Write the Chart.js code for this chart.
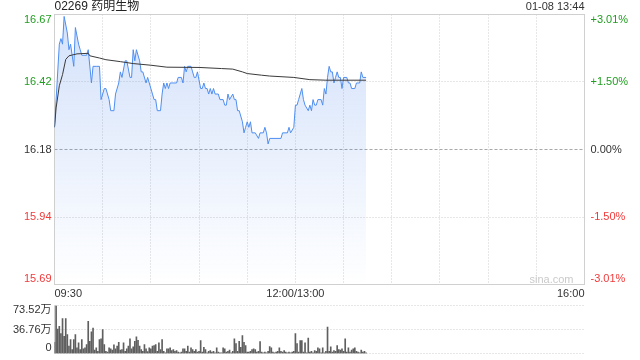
<!DOCTYPE html>
<html>
<head>
<meta charset="utf-8">
<script src="https://cdn.jsdelivr.net/npm/chart.js@4.4.1/dist/chart.umd.min.js"></script>
<style>
  html, body { margin: 0; padding: 0; background: #fff; }
  #wrap { position: relative; width: 640px; height: 360px; overflow: hidden; }
  #priceChart { position: absolute; left: 0; top: 0; }
  #volChart { position: absolute; left: 0; top: 300px; }
</style>
</head>
<body>
<div id="wrap">
  <canvas id="priceChart" width="640" height="300"></canvas>
  <canvas id="volChart" width="640" height="60"></canvas>
</div>
<script>
// header texts
const stockTitle = '02269 药明生物';
const timeStamp = '01-08 13:44';

// axes
const prevClose = 16.18;
const pctLimit = 3.01;
const totalMinutes = 330; // 09:30-12:00 + 13:00-16:00
const priceLabels = ['16.67', '16.42', '16.18', '15.94', '15.69'];
const pctLabels = ['+3.01%', '+1.50%', '0.00%', '-1.50%', '-3.01%'];
const timeLabels = ['09:30', '12:00/13:00', '16:00'];
const timeLabelMinutes = [0, 150, 330];
const volLabels = ['73.52万', '36.76万', '0'];
const volMax = 73.52;

// price line (minutes since 09:30, lunch break collapsed)
const priceMinutes = [0, 3, 4, 5, 6, 8, 9, 10, 11, 12, 13, 15, 16, 17, 20, 21, 23, 24, 26, 28,
  29, 31, 32, 34, 35, 37, 38, 40, 41, 42, 44, 45, 47, 48, 49, 50, 51, 53, 54, 55,
  57, 58, 59, 61, 62, 63, 64, 66, 67, 68, 69, 70, 71, 72, 76, 77, 79, 80, 81, 82,
  83, 85, 86, 87, 88, 89, 91, 92, 93, 94, 95, 96, 97, 98, 99, 100, 102, 103, 105, 106,
  107, 108, 109, 111, 112, 113, 114, 115, 117, 118, 119, 120, 121, 122, 123, 125, 127, 128, 130, 131,
  132, 133, 134, 141, 142, 145, 146, 147, 149, 150, 151, 152, 154, 155, 156, 158, 159, 160, 161, 162,
  163, 164, 166, 167, 168, 169, 170, 171, 172, 173, 174, 175, 176, 177, 178, 179, 180, 182, 183, 184,
  185, 187, 188, 190, 191, 192, 194];
const prices = [16.26, 16.56, 16.58, 16.56, 16.66, 16.60, 16.54, 16.56, 16.52, 16.48, 16.62, 16.56, 16.54, 16.52, 16.52, 16.54, 16.42, 16.48, 16.48, 16.48,
  16.36, 16.40, 16.40, 16.36, 16.32, 16.32, 16.38, 16.42, 16.46, 16.44, 16.50, 16.50, 16.44, 16.44, 16.54, 16.50, 16.54, 16.50, 16.46, 16.46,
  16.42, 16.44, 16.42, 16.38, 16.36, 16.36, 16.32, 16.32, 16.38, 16.42, 16.40, 16.42, 16.40, 16.42, 16.42, 16.44, 16.44, 16.42, 16.48, 16.46,
  16.48, 16.48, 16.46, 16.44, 16.44, 16.46, 16.40, 16.40, 16.42, 16.40, 16.40, 16.38, 16.40, 16.38, 16.40, 16.38, 16.38, 16.36, 16.36, 16.34,
  16.34, 16.38, 16.36, 16.38, 16.36, 16.36, 16.32, 16.32, 16.28, 16.24, 16.26, 16.28, 16.26, 16.28, 16.24, 16.24, 16.22, 16.24, 16.24, 16.26,
  16.24, 16.20, 16.22, 16.22, 16.24, 16.24, 16.26, 16.24, 16.26, 16.34, 16.34, 16.36, 16.40, 16.36, 16.34, 16.32, 16.34, 16.32, 16.36, 16.34,
  16.34, 16.36, 16.36, 16.34, 16.40, 16.38, 16.44, 16.48, 16.46, 16.46, 16.42, 16.44, 16.46, 16.44, 16.44, 16.40, 16.44, 16.44, 16.42, 16.42,
  16.40, 16.40, 16.42, 16.42, 16.46, 16.44, 16.44];

// average price line
const avgMinutes = [0, 1, 3, 5, 7, 9, 14, 21, 22, 28, 32, 41, 49, 60, 70, 90, 104, 111, 117, 120, 129, 134, 149, 159, 169, 194];
const avgPrices = [16.26, 16.33, 16.41, 16.45, 16.505, 16.518, 16.525, 16.527, 16.518, 16.51, 16.504, 16.497, 16.49, 16.484, 16.477, 16.476, 16.472, 16.47, 16.46, 16.454, 16.448, 16.445, 16.44, 16.432, 16.43, 16.43];

// volume per minute (万股), from 09:30
const volumes = [17, 73.5, 37.5, 41.6, 30.4, 53.3, 26.4, 53.3, 29, 11.2,
  21.3, 6.1, 21.3, 29, 8.6, 16.2, 6.1, 21.3, 7.1, 8.6,
  13.7, 49.2, 18.8, 33, 39, 5.1, 8.6, 3.5, 21.3, 22.3,
  36.5, 13.7, 3.5, 2, 8.6, 7.1, 5.1, 13.2, 7.1, 11.2,
  17.2, 5.1, 6.1, 16.2, 3.5, 7.1, 11.2, 22.3, 7.1, 10.1,
  18.8, 25.4, 20.3, 11.2, 6.1, 3.5, 13.7, 7.1, 3, 8.6,
  7.1, 11.2, 12.2, 13.7, 3.5, 16.2, 6.1, 21.3, 3.5, 1,
  7.1, 7.1, 8.6, 4.6, 6.1, 3.5, 4.6, 2, 1, 2,
  7.1, 7.1, 3.5, 11.2, 2, 8.6, 6.1, 3.5, 6.1, 2,
  3.5, 19.8, 2, 9.6, 6.1, 1, 3.5, 4.6, 2, 3.5,
  1, 8.6, 2, 1, 1, 8.6, 7.1, 2, 3.5, 5.1,
  1, 3.5, 22.3, 15.2, 3.5, 18.8, 9.6, 27.4, 17.2, 12.2,
  2, 2, 3.5, 6.1, 7.1, 6.1, 2, 3.5, 18.3, 2,
  1, 2, 1, 3.5, 10.7, 8.6, 2, 1, 2, 3.5,
  8.6, 3.5, 2, 4.6, 2, 1, 2, 1, 2, 3.5,
  30.4, 15.2, 2, 19.8, 19.8, 2, 16.2, 1, 23.8, 2,
  3.5, 1, 4.6, 3.5, 8.6, 7.1, 1, 8.6, 1, 3.5,
  40.6, 3.5, 10.1, 2, 4.6, 3.5, 12.2, 6.1, 5.1, 7.1,
  3.5, 22.3, 2, 8.6, 2, 5.1, 7.1, 8.6, 3.5, 2,
  1, 5.1, 2, 3.5, 1];

const UP = '#1f9e1f';
const DOWN = '#f03a3a';
const TEXT = '#333';
const FONT = '"Liberation Sans", Arial, "Noto Sans CJK SC", sans-serif';

function crisp(v) {
    return Math.floor(v) + 0.5;
}

function labelColor(i) {
    if (i < 2) return UP;
    if (i > 2) return DOWN;
    return TEXT;
}

// grid, frame and texts for the minute chart
const priceDecor = {
    id: 'priceDecor',
    beforeDatasetsDraw(chart) {
        const { ctx, chartArea: a, scales: { x, y } } = chart;
        ctx.save();
        ctx.lineWidth = 1;
        // vertical grid every 30 min
        ctx.strokeStyle = '#cfcfcf';
        ctx.setLineDash([1, 2]);
        for (let m = 30; m < totalMinutes; m += 30) {
            const px = crisp(x.getPixelForValue(m));
            ctx.beginPath();
            ctx.moveTo(px, a.top);
            ctx.lineTo(px, a.bottom);
            ctx.stroke();
        }
        // horizontal grid
        for (let i = 1; i < 4; i++) {
            const v = y.max - (y.max - y.min) * i / 4;
            const py = crisp(y.getPixelForValue(v));
            if (i === 2) {
                ctx.strokeStyle = '#a8a8a8';
                ctx.setLineDash([3, 2]);
            } else {
                ctx.strokeStyle = '#cfcfcf';
                ctx.setLineDash([1, 2]);
            }
            ctx.beginPath();
            ctx.moveTo(a.left, py);
            ctx.lineTo(a.right, py);
            ctx.stroke();
        }
        ctx.setLineDash([]);
        ctx.strokeStyle = '#d0d0d0';
        ctx.strokeRect(a.left, a.top, a.right - a.left, a.bottom - a.top);
        ctx.restore();
    },
    afterDraw(chart) {
        const { ctx, chartArea: a, scales: { x, y } } = chart;
        ctx.save();
        ctx.font = '11px ' + FONT;
        for (let i = 0; i < 5; i++) {
            const v = y.max - (y.max - y.min) * i / 4;
            let py = y.getPixelForValue(v);
            ctx.textBaseline = 'middle';
            if (i === 0) { ctx.textBaseline = 'top'; py = a.top; }
            if (i === 4) { ctx.textBaseline = 'bottom'; py = a.bottom; }
            ctx.fillStyle = labelColor(i);
            ctx.textAlign = 'right';
            ctx.fillText(priceLabels[i], a.left - 3, py);
            ctx.textAlign = 'left';
            ctx.fillText(pctLabels[i], a.right + 6, py);
        }
        // time labels
        ctx.fillStyle = TEXT;
        ctx.textBaseline = 'middle';
        timeLabels.forEach((t, i) => {
            const px = x.getPixelForValue(timeLabelMinutes[i]);
            ctx.textAlign = i === 0 ? 'left' : (i === timeLabels.length - 1 ? 'right' : 'center');
            ctx.fillText(t, px, a.bottom + 9);
        });
        // header
        ctx.textAlign = 'right';
        ctx.fillText(timeStamp, a.right, 7);
        ctx.font = '12px ' + FONT;
        ctx.textAlign = 'left';
        ctx.fillStyle = '#222';
        ctx.fillText(stockTitle, a.left, 7);
        // watermark
        ctx.font = '11px ' + FONT;
        ctx.fillStyle = '#cacaca';
        ctx.textAlign = 'right';
        ctx.fillText('sina.com', a.right - 11, a.bottom - 5);
        ctx.restore();
    }
};

const volDecor = {
    id: 'volDecor',
    beforeDatasetsDraw(chart) {
        const { ctx, chartArea: a, scales: { y } } = chart;
        ctx.save();
        ctx.lineWidth = 1;
        ctx.strokeStyle = '#cfcfcf';
        ctx.setLineDash([1, 2]);
        [volMax, volMax / 2, 0].forEach(v => {
            const py = crisp(y.getPixelForValue(v));
            ctx.beginPath();
            ctx.moveTo(a.left, py);
            ctx.lineTo(a.right, py);
            ctx.stroke();
        });
        ctx.setLineDash([]);
        ctx.strokeStyle = '#d0d0d0';
        ctx.beginPath();
        ctx.moveTo(a.left, a.top);
        ctx.lineTo(a.left, a.bottom);
        ctx.stroke();
        ctx.restore();
    },
    afterDraw(chart) {
        const { ctx, chartArea: a, scales: { y } } = chart;
        ctx.save();
        ctx.font = '11px ' + FONT;
        ctx.fillStyle = TEXT;
        ctx.textAlign = 'right';
        ctx.textBaseline = 'top';
        ctx.fillText(volLabels[0], a.left - 3, a.top - 1);
        ctx.textBaseline = 'middle';
        ctx.fillText(volLabels[1], a.left - 3, y.getPixelForValue(volMax / 2));
        ctx.textBaseline = 'bottom';
        ctx.fillText(volLabels[2], a.left - 3, a.bottom);
        ctx.restore();
    }
};

const priceCtx = document.getElementById('priceChart').getContext('2d');
new Chart(priceCtx, {
    type: 'line',
    data: {
        datasets: [{
            label: 'avg',
            data: avgMinutes.map((m, i) => ({ x: m, y: avgPrices[i] })),
            borderColor: '#3a3a3a',
            borderWidth: 1,
            pointRadius: 0,
            fill: false,
            tension: 0
        }, {
            label: 'price',
            data: priceMinutes.map((m, i) => ({ x: m, y: prices[i] })),
            borderColor: '#4f8ef0',
            borderWidth: 1,
            pointRadius: 0,
            tension: 0,
            fill: 'start',
            backgroundColor: (c) => {
                const area = c.chart.chartArea;
                if (!area) return 'rgba(80,140,240,0.15)';
                const g = c.chart.ctx.createLinearGradient(0, area.top, 0, area.bottom);
                g.addColorStop(0, 'rgba(70,130,235,0.24)');
                g.addColorStop(1, 'rgba(70,130,235,0.0)');
                return g;
            }
        }]
    },
    options: {
        responsive: false,
        animation: false,
        devicePixelRatio: 1,
        layout: { padding: { left: 54.5, right: 55.5, top: 14.5, bottom: 15.5 } },
        scales: {
            x: { type: 'linear', min: 0, max: totalMinutes, display: false },
            y: { min: prevClose * (1 - pctLimit / 100), max: prevClose * (1 + pctLimit / 100), display: false }
        },
        plugins: { legend: { display: false }, tooltip: { enabled: false } }
    },
    plugins: [priceDecor]
});

const volCtx = document.getElementById('volChart').getContext('2d');
new Chart(volCtx, {
    type: 'bar',
    data: {
        datasets: [{
            data: volumes.map((v, i) => ({ x: i, y: v })),
            backgroundColor: '#5f5f5f',
            barThickness: 1,
            borderWidth: 0
        }]
    },
    options: {
        responsive: false,
        animation: false,
        devicePixelRatio: 1,
        layout: { padding: { left: 54.5, right: 55.5, top: 5.5, bottom: 6.5 } },
        scales: {
            x: { type: 'linear', min: 0, max: totalMinutes, display: false, offset: false },
            y: { min: 0, max: volMax, display: false }
        },
        plugins: { legend: { display: false }, tooltip: { enabled: false } }
    },
    plugins: [volDecor]
});
</script>
</body>
</html>
